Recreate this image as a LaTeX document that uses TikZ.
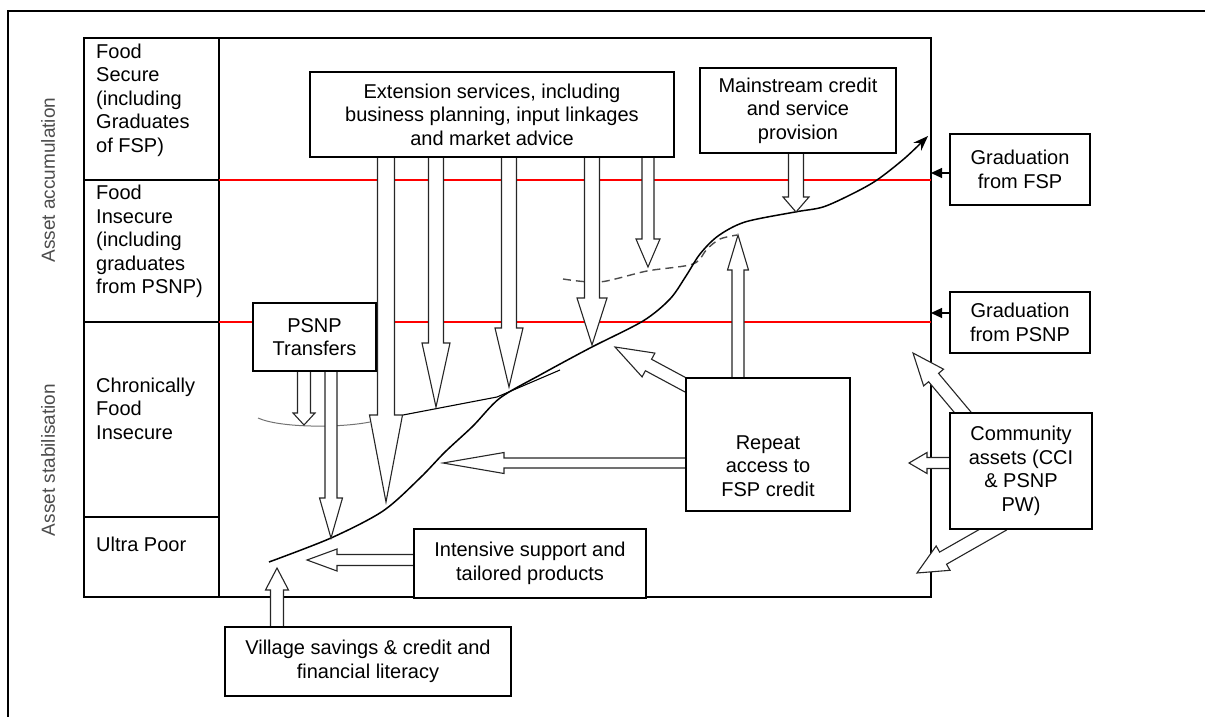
\documentclass[tikz,border=0pt]{standalone}
\usepackage{fontspec}
\setmainfont{Liberation Sans}
\usetikzlibrary{arrows.meta,calc}
\newcommand{\hollowarrow}[5]{%
  \path let \p1=(#1), \p2=(#2), \n1={atan2(\y2-\y1,\x2-\x1)}, \n2={veclen(\x2-\x1,\y2-\y1)} in
    \pgfextra{\xdef\haAng{\n1}\xdef\haLen{\n2}\xdef\haX{\x1}\xdef\haY{\y1}};
  \pgfmathsetmacro\haL{\haLen}%
  \pgfmathsetmacro\haA{\haAng}%
  \pgfmathsetmacro\haB{\haL-#5}%
  \begin{scope}[shift={(\haX,\haY)}, rotate=\haA]
    \draw[hollow] (0pt,{-0.5*#3pt}) -- ({\haB pt},{-0.5*#3pt}) -- ({\haB pt},{-0.5*#4pt}) -- ({\haL pt},0pt) -- ({\haB pt},{0.5*#4pt}) -- ({\haB pt},{0.5*#3pt}) -- (0pt,{0.5*#3pt}) -- cycle;
  \end{scope}}
\begin{document}
\begin{tikzpicture}[x=1pt,y=-1pt,
  box/.style={draw=black, line width=1.6pt, fill=white, inner sep=0pt, align=center, font=\fontsize{20}{23.5}\selectfont},
  txt/.style={inner sep=0pt, align=left, font=\fontsize{20}{23.5}\selectfont, anchor=north west},
  ctxt/.style={inner sep=0pt, align=center, font=\fontsize{20}{23.5}\selectfont},
  side/.style={inner sep=0pt, rotate=90, text=black!70, font=\fontsize{19}{22}\selectfont},
  gridline/.style={line width=1.6pt},
  redline/.style={red, line width=1.5pt},
  hollow/.style={draw=black!85, line width=1.1pt, fill=white, line join=miter},
  smallarr/.style={line width=1.2pt, -{Triangle[length=11pt,width=10pt]}}
]
\useasboundingbox (0,0) rectangle (1205,717);
% outer frame
\draw[line width=2.5pt] (8,717) -- (8,11) -- (1205,11);
% grid
\coordinate (gridR) at (931,38);
\draw[gridline] (84,38) rectangle (931,597);
\draw[gridline] (219,38) -- (219,597);
\draw[gridline] (84,180) -- (219,180);
\draw[gridline] (84,322) -- (219,322);
\draw[gridline] (84,517) -- (219,517);
\draw[redline] (219,180) -- (931,180);
\draw[redline] (219,322) -- (931,322);
% side labels
\node[side] (acc) at (48,180) {Asset accumulation};
\node[side] (stab) at (48,460) {Asset stabilisation};
% left column
\node[txt] (fs) at (96,43.5) {Food\\Secure\\(including\\Graduates\\of FSP)};
\node[txt] (fi) at (96,185) {Food\\Insecure\\(including\\graduates\\from PSNP)};
\node[txt] (cfi) at (96,377.5) {Chronically\\Food\\Insecure};
\node[txt] (up) at (96,536.5) {Ultra Poor};
% lower branch and dashed branch
\draw[black!55, line width=1pt] (258,418) .. controls (280,428) and (340,428) .. (370,422);
\draw[line width=1.1pt] (403,415) -- (497,397) -- (560,370);
\draw[black!70, line width=1.4pt, dash pattern=on 8pt off 5pt] plot[smooth] coordinates {(563,279) (600,282) (647,271) (693,264) (707,249) (720,239) (737,235)};
% main curve
\draw[line width=1.5pt, -{Stealth[length=15pt,width=11pt]}] plot[smooth] coordinates {(269,562) (331,538) (383,511) (420,478) (445,452) (473,426) (500,398) (540,375) (590,348) (643,321) (670,299) (686,276) (700,254) (718,236) (745,222) (795,212) (823,207) (852,194) (877,180) (905,158) (928,136)};
% box anchors
\path (492,114.5) node[minimum width=364, minimum height=85, inner sep=0pt] (ext) {};
\path (798,110.5) node[minimum width=196, minimum height=85, inner sep=0pt] (main) {};
\path (314.5,337) node[minimum width=123, minimum height=68, inner sep=0pt] (psnp) {};
\path (768,444.5) node[minimum width=164, minimum height=133, inner sep=0pt] (rep) {};
\path (530,563.5) node[minimum width=232, minimum height=69, inner sep=0pt] (int) {};
\path (368,661.5) node[minimum width=286, minimum height=69, inner sep=0pt] (vil) {};
\path (1021,471) node[minimum width=142, minimum height=116, inner sep=0pt] (com) {};
% arrow tips
\coordinate (t1) at (386,502);
\coordinate (t2) at (436,407);
\coordinate (t3) at (509,387);
\coordinate (t4) at (592,345);
\coordinate (t5) at (648,267);
\coordinate (tm) at (796,212);
\coordinate (tp1) at (304,425);
\coordinate (tp2) at (331,538);
\coordinate (tru) at (738,235);
\coordinate (trd) at (615,347);
\coordinate (trl) at (443,463);
\coordinate (til) at (307,560);
\coordinate (tv) at (277,568);
\coordinate (tcu) at (913,353);
\coordinate (tcl) at (909,463);
\coordinate (tcd) at (917,573);
\coordinate (srd) at (695,390);
\coordinate (scu) at (970,421);
\coordinate (scd) at (1003,524);
% hollow arrows
\hollowarrow{t1 |- ext.south}{t1}{17}{33}{87}
\hollowarrow{t2 |- ext.south}{t2}{15}{28}{64}
\hollowarrow{t3 |- ext.south}{t3}{15}{28}{59}
\hollowarrow{t4 |- ext.south}{t4}{15}{30}{47}
\hollowarrow{t5 |- ext.south}{t5}{12}{24}{28}
\hollowarrow{tm |- main.south}{tm}{15}{26}{15}
\hollowarrow{tp1 |- psnp.south}{tp1}{13}{22}{12}
\hollowarrow{tp2 |- psnp.south}{tp2}{12}{23}{40}
\hollowarrow{tru |- rep.north}{tru}{12}{21}{35}
\hollowarrow{srd}{trd}{13}{27}{38}
\hollowarrow{rep.west |- trl}{trl}{10}{21}{61}
\hollowarrow{int.west |- til}{til}{11}{22}{30}
\hollowarrow{tv |- vil.north}{tv}{13}{23}{22}
\hollowarrow{scu}{tcu}{13}{26}{32}
\hollowarrow{com.west |- tcl}{tcl}{11}{21}{18}
\hollowarrow{scd}{tcd}{14}{28}{30}
% boxes with text
\node[box, minimum width=364, minimum height=85] (extb) at (ext) {Extension services, including\\business planning, input linkages\\and market advice};
\node[box, minimum width=196, minimum height=85] (mainb) at (main) {Mainstream credit\\and service\\provision};
\node[box, minimum width=123, minimum height=68] (psnpb) at (psnp) {PSNP\\Transfers};
\node[box, minimum width=164, minimum height=133] (repb) at (rep) {};
\node[ctxt] (reptxt) at (768,466) {Repeat\\access to\\FSP credit};
\node[box, minimum width=232, minimum height=69] (intb) at (int) {Intensive support and\\tailored products};
\node[box, minimum width=286, minimum height=69] (vilb) at (vil) {Village savings \& credit and\\financial literacy};
\node[box, minimum width=140, minimum height=71] (gfsp) at (1020,169.5) {Graduation\\from FSP};
\node[box, minimum width=140, minimum height=61] (gpsnp) at (1020,322.5) {Graduation\\from PSNP};
\node[box, minimum width=142, minimum height=116] (comb) at (com) {Community\\assets (CCI\\\& PSNP\\PW)};
% graduation arrows
\coordinate (gfa) at (950,173);
\coordinate (gpa) at (950,313);
\draw[smallarr] (gfa) -- (gfa -| gridR);
\draw[smallarr] (gpa) -- (gpa -| gridR);
\end{tikzpicture}
\end{document}
